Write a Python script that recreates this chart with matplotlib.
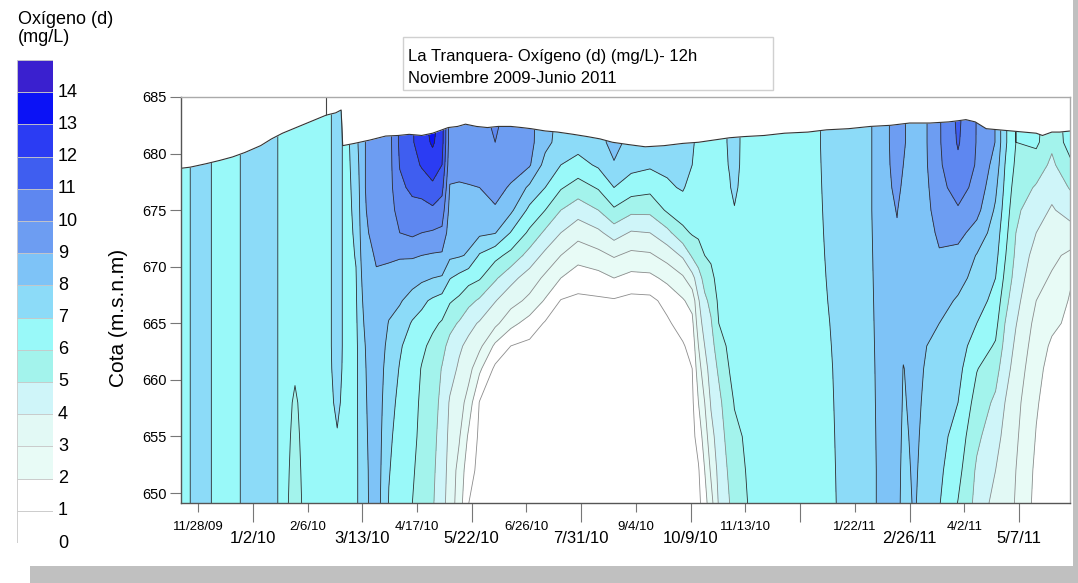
import numpy as np
import matplotlib
matplotlib.use("Agg")
import matplotlib.pyplot as plt
from matplotlib.patches import Rectangle

plt.rcParams['font.family'] = ['Liberation Sans', 'DejaVu Sans']

# ---------------- data ----------------
base_date = np.datetime64('2009-11-28')

# elevations (m.s.n.m) of the sampled profile points
elev = [649, 652, 655, 658, 661, 663, 665, 667, 669, 671, 673, 675, 677, 679, 681, 683, 685.5]

# sample dates as days after 2009-11-28
sample_days = [-11, 1, 16, 38, 47, 54, 62, 70, 82, 89, 95, 101, 106, 114, 122, 129,
               137, 143, 150, 156, 161, 167, 173, 180, 190, 200, 212, 222, 232, 243,
               256, 266, 277, 289, 300, 310, 316, 320, 324, 328, 333, 340, 343, 348,
               355, 370, 392, 404, 415, 428, 438, 447, 451, 458, 466, 474, 486, 498,
               510, 516, 523, 536, 546, 558]

# dissolved oxygen (mg/L) per sample date, from bottom (649 m) to top (685.5 m)
oxygen = [
    [6.6, 6.6, 6.6, 6.6, 6.6, 6.6, 6.6, 6.6, 6.6, 6.6, 6.6, 6.6, 6.6, 6.6, 6.6, 6.6, 6.6],
    [7.4, 7.4, 7.4, 7.4, 7.4, 7.4, 7.4, 7.4, 7.4, 7.4, 7.4, 7.4, 7.4, 7.4, 7.4, 7.4, 7.4],
    [6.6, 6.6, 6.6, 6.6, 6.6, 6.6, 6.6, 6.6, 6.6, 6.6, 6.6, 6.6, 6.6, 6.6, 6.6, 6.6, 6.6],
    [7.4, 7.4, 7.4, 7.4, 7.4, 7.4, 7.4, 7.4, 7.4, 7.4, 7.4, 7.4, 7.4, 7.4, 7.4, 7.4, 7.4],
    [7.4, 7.4, 7.4, 7.4, 7.4, 7.4, 7.4, 7.4, 7.4, 7.4, 7.4, 7.4, 7.4, 7.4, 7.4, 7.4, 7.4],
    [6.7, 6.7, 6.7, 6.7, 6.7, 6.7, 6.7, 6.7, 6.7, 6.7, 6.7, 6.7, 6.7, 6.7, 6.7, 6.7, 6.7],
    [5.2, 5.4, 5.6, 5.8, 6.2, 6.5, 6.65, 6.7, 6.7, 6.7, 6.7, 6.7, 6.7, 6.7, 6.7, 6.7, 6.7],
    [6.7, 6.7, 6.7, 6.7, 6.7, 6.7, 6.7, 6.7, 6.7, 6.7, 6.7, 6.7, 6.7, 6.7, 6.7, 6.7, 6.7],
    [6.7, 6.7, 6.7, 6.7, 6.7, 6.7, 6.7, 6.7, 6.7, 6.7, 6.7, 6.7, 6.7, 6.7, 6.7, 6.7, 6.7],
    [6.5, 6.7, 6.95, 7.15, 7.3, 7.35, 7.35, 7.35, 7.35, 7.35, 7.35, 7.35, 7.35, 7.35, 7.35, 7.35, 7.35],
    [6.7, 6.7, 6.7, 6.7, 6.7, 6.7, 6.7, 6.7, 6.7, 6.7, 6.7, 6.7, 6.7, 6.7, 6.7, 6.7, 6.7],
    [6.8, 6.8, 6.8, 6.8, 6.8, 6.8, 6.85, 6.9, 6.95, 7.05, 7.15, 7.25, 7.35, 7.5, 7.7, 7.8, 7.8],
    [7.7, 7.7, 7.75, 7.8, 7.85, 7.9, 8.0, 8.2, 8.4, 8.6, 8.75, 8.85, 8.9, 8.9, 8.9, 8.9, 8.9],
    [8.5, 8.55, 8.6, 8.65, 8.7, 8.75, 8.8, 8.85, 8.9, 9.1, 9.4, 9.6, 9.7, 9.7, 9.7, 9.7, 9.7],
    [6.95, 7.05, 7.15, 7.3, 7.5, 7.7, 7.95, 8.3, 8.7, 9.15, 9.45, 9.55, 9.6, 9.6, 9.6, 9.6, 9.6],
    [6.55, 6.6, 6.7, 6.8, 6.95, 7.1, 7.6, 8.1, 8.5, 9.1, 10.0, 10.4, 10.8, 11.05, 11.2, 11.2, 11.2],
    [6.0, 6.1, 6.2, 6.3, 6.45, 6.6, 6.9, 7.6, 8.4, 9.1, 10.2, 10.7, 11.2, 11.6, 11.9, 11.9, 11.9],
    [5.6, 5.7, 5.8, 5.85, 5.95, 6.2, 6.7, 7.2, 8.2, 9.0, 10.0, 10.6, 11.4, 12.1, 12.5, 12.7, 12.7],
    [5.1, 5.2, 5.3, 5.4, 5.55, 5.75, 6.2, 6.85, 8.0, 8.9, 9.9, 10.8, 11.8, 12.5, 13.15, 13.4, 13.4],
    [4.35, 4.45, 4.6, 4.75, 4.95, 5.3, 5.9, 6.6, 7.9, 8.85, 9.8, 10.5, 11.3, 12.0, 12.4, 12.5, 12.5],
    [3.55, 3.65, 3.75, 3.9, 4.4, 4.7, 5.3, 6.1, 7.05, 8.2, 8.45, 8.7, 8.95, 9.3, 9.5, 9.5, 9.5],
    [2.5, 2.65, 3.1, 3.5, 3.85, 4.15, 4.9, 5.8, 6.7, 8.1, 8.35, 8.6, 8.9, 9.3, 9.5, 9.5, 9.5],
    [1.0, 1.4, 1.85, 2.55, 3.4, 3.75, 4.3, 5.3, 6.35, 7.9, 8.3, 8.55, 8.95, 9.3, 9.5, 9.5, 9.5],
    [0.6, 0.7, 0.8, 0.95, 2.2, 3.25, 3.9, 4.85, 6.1, 6.9, 8.2, 8.5, 9.0, 9.4, 9.7, 9.7, 9.7],
    [0.4, 0.45, 0.5, 0.6, 0.8, 1.8, 3.25, 4.05, 5.15, 6.3, 8.05, 8.9, 9.3, 9.65, 10.0, 10.2, 10.2],
    [0.35, 0.4, 0.45, 0.55, 0.7, 1.0, 2.3, 3.4, 4.3, 5.7, 6.95, 8.2, 8.9, 9.4, 9.6, 9.6, 9.6],
    [0.35, 0.4, 0.45, 0.5, 0.6, 0.75, 1.6, 2.75, 3.55, 4.6, 5.8, 6.75, 7.8, 9.1, 9.3, 9.3, 9.3],
    [0.3, 0.35, 0.4, 0.45, 0.55, 0.7, 0.9, 1.9, 2.8, 3.75, 4.8, 6.0, 7.0, 7.65, 8.3, 8.4, 8.4],
    [0.3, 0.3, 0.35, 0.4, 0.5, 0.6, 0.75, 0.95, 2.0, 3.0, 4.0, 5.0, 6.1, 7.0, 7.6, 7.7, 7.7],
    [0.3, 0.3, 0.3, 0.35, 0.4, 0.5, 0.6, 0.8, 1.45, 2.4, 3.35, 4.45, 5.55, 6.65, 7.4, 7.5, 7.5],
    [0.3, 0.3, 0.3, 0.35, 0.4, 0.5, 0.6, 0.85, 1.65, 2.7, 3.8, 5.0, 6.1, 7.15, 7.6, 7.7, 7.7],
    [0.3, 0.3, 0.3, 0.35, 0.4, 0.5, 0.6, 0.9, 2.0, 3.1, 4.45, 5.85, 7.0, 7.9, 8.4, 8.4, 8.4],
    [0.3, 0.3, 0.3, 0.35, 0.4, 0.5, 0.6, 0.7, 1.7, 2.75, 3.9, 5.25, 6.5, 7.3, 7.6, 7.6, 7.6],
    [0.35, 0.35, 0.35, 0.4, 0.45, 0.55, 0.65, 0.75, 1.75, 2.85, 4.0, 5.25, 6.3, 7.15, 7.4, 7.5, 7.5],
    [0.4, 0.4, 0.45, 0.5, 0.6, 0.7, 0.85, 1.3, 2.25, 3.4, 4.7, 6.15, 6.85, 7.2, 7.4, 7.4, 7.4],
    [0.5, 0.55, 0.6, 0.65, 0.75, 0.9, 1.4, 1.9, 2.85, 4.15, 5.75, 6.5, 7.1, 7.2, 7.3, 7.3, 7.3],
    [0.6, 0.65, 0.7, 0.8, 1.0, 1.35, 1.75, 2.35, 3.65, 5.15, 6.1, 6.3, 6.6, 7.0, 7.05, 7.05, 7.05],
    [0.7, 0.9, 1.4, 2.0, 2.6, 3.0, 3.55, 3.9, 4.6, 5.5, 6.2, 6.45, 6.65, 6.8, 6.9, 6.9, 6.9],
    [1.6, 2.0, 2.5, 3.0, 3.6, 4.0, 4.4, 4.8, 5.35, 6.0, 6.35, 6.55, 6.7, 6.8, 6.85, 6.85, 6.85],
    [2.6, 3.15, 3.65, 4.1, 4.45, 4.65, 4.9, 5.25, 5.75, 6.15, 6.4, 6.55, 6.7, 6.75, 6.8, 6.8, 6.8],
    [4.1, 4.3, 4.5, 4.75, 5.15, 5.5, 6.0, 6.2, 6.35, 6.45, 6.55, 6.6, 6.65, 6.7, 6.7, 6.7, 6.7],
    [5.0, 5.2, 5.45, 5.7, 6.05, 6.25, 6.4, 6.5, 6.55, 6.6, 6.65, 6.75, 6.95, 7.05, 7.1, 7.1, 7.1],
    [5.3, 5.55, 5.8, 6.05, 6.3, 6.45, 6.55, 6.6, 6.65, 6.7, 6.8, 6.95, 7.2, 7.4, 7.5, 7.5, 7.5],
    [5.7, 5.85, 6.0, 6.15, 6.3, 6.4, 6.5, 6.55, 6.6, 6.6, 6.65, 6.7, 6.75, 6.8, 6.8, 6.8, 6.8],
    [6.3, 6.35, 6.4, 6.45, 6.5, 6.55, 6.6, 6.6, 6.6, 6.6, 6.6, 6.6, 6.6, 6.6, 6.6, 6.6, 6.6],
    [6.6, 6.6, 6.6, 6.6, 6.6, 6.6, 6.6, 6.6, 6.6, 6.6, 6.6, 6.6, 6.6, 6.6, 6.6, 6.6, 6.6],
    [6.6, 6.6, 6.6, 6.6, 6.6, 6.6, 6.6, 6.6, 6.6, 6.6, 6.6, 6.6, 6.6, 6.6, 6.6, 6.6, 6.6],
    [6.7, 6.75, 6.8, 6.85, 6.9, 6.95, 7.0, 7.05, 7.1, 7.15, 7.2, 7.25, 7.3, 7.35, 7.4, 7.4, 7.4],
    [7.5, 7.5, 7.5, 7.5, 7.5, 7.5, 7.5, 7.5, 7.5, 7.5, 7.5, 7.5, 7.5, 7.5, 7.5, 7.5, 7.5],
    [7.6, 7.6, 7.62, 7.64, 7.66, 7.68, 7.7, 7.72, 7.74, 7.76, 7.78, 7.8, 7.8, 7.8, 7.8, 7.8, 7.8],
    [8.3, 8.3, 8.32, 8.34, 8.36, 8.38, 8.4, 8.42, 8.44, 8.46, 8.48, 8.5, 8.5, 8.5, 8.5, 8.5, 8.5],
    [8.4, 8.4, 8.45, 8.5, 8.55, 8.6, 8.65, 8.7, 8.75, 8.8, 8.9, 9.05, 9.3, 9.5, 9.6, 9.6, 9.6],
    [7.6, 7.7, 7.8, 7.9, 7.97, 8.15, 8.3, 8.35, 8.4, 8.45, 8.5, 8.6, 8.8, 9.0, 9.1, 9.1, 9.1],
    [8.1, 8.15, 8.2, 8.25, 8.3, 8.35, 8.4, 8.42, 8.44, 8.46, 8.5, 8.52, 8.55, 8.58, 8.6, 8.6, 8.6],
    [7.5, 7.6, 7.7, 7.8, 7.9, 8.0, 8.1, 8.2, 8.3, 8.45, 8.6, 8.75, 8.85, 8.95, 8.98, 8.98, 8.98],
    [7.05, 7.2, 7.35, 7.5, 7.7, 7.85, 8.0, 8.3, 8.6, 8.9, 9.2, 9.5, 9.7, 9.85, 9.9, 9.9, 9.9],
    [5.95, 6.3, 6.6, 7.0, 7.3, 7.5, 7.7, 7.9, 8.3, 8.7, 9.3, 9.9, 10.4, 10.8, 11.1, 11.2, 11.2],
    [4.7, 4.85, 5.2, 5.6, 6.05, 6.5, 7.0, 7.4, 7.7, 7.95, 8.6, 9.3, 9.7, 9.9, 9.95, 9.95, 9.95],
    [3.6, 4.0, 4.4, 4.8, 5.4, 5.9, 6.3, 6.7, 7.0, 7.3, 7.55, 7.85, 8.2, 8.6, 8.97, 8.97, 8.97],
    [3.3, 3.5, 3.7, 4.0, 4.4, 4.7, 5.0, 5.35, 5.8, 6.1, 6.35, 6.6, 6.8, 7.0, 7.2, 7.2, 7.2],
    [2.95, 3.0, 3.15, 3.3, 3.6, 3.8, 4.05, 4.3, 4.55, 4.8, 5.0, 5.2, 5.5, 5.8, 6.0, 6.0, 6.0],
    [1.7, 1.8, 1.95, 2.1, 2.3, 2.5, 2.7, 3.0, 3.3, 3.6, 4.0, 4.4, 4.9, 5.5, 6.2, 6.3, 6.3],
    [1.2, 1.3, 1.4, 1.5, 1.65, 1.85, 2.2, 2.6, 2.9, 3.2, 3.5, 3.9, 4.3, 4.8, 5.2, 5.3, 5.3],
    [1.2, 1.3, 1.4, 1.5, 1.6, 1.7, 1.8, 1.9, 2.1, 2.8, 3.6, 4.4, 5.1, 5.8, 6.5, 6.6, 6.6],
]

# water surface elevation (days after 2009-11-28, m)
surface_days = [-11, -5, 5, 14, 22, 30, 40, 47, 54, 61, 68, 75, 82, 88, 91.5, 92.5,
                100, 110, 120, 128, 135, 143, 150, 156, 160, 166, 171, 178, 185, 192,
                200, 207, 213, 222, 230, 240, 249, 257, 265, 275, 286, 298, 310, 320,
                330, 340, 349, 362, 375, 390, 402, 416, 430, 443, 455, 468, 480, 486,
                491, 497, 504, 512, 520, 528, 536, 540, 546, 551, 558]
surface_elev = [678.7, 678.8, 679.1, 679.4, 679.7, 680.1, 680.7, 681.3, 681.8, 682.2,
                682.6, 683.0, 683.4, 683.6, 683.85, 680.7, 680.9, 681.2, 681.55, 681.6,
                681.7, 681.6, 681.8, 682.1, 682.3, 682.4, 682.6, 682.4, 682.3, 682.4,
                682.4, 682.3, 682.2, 682.0, 681.9, 681.7, 681.5, 681.3, 681.0, 680.8,
                680.6, 680.7, 680.9, 681.0, 681.2, 681.4, 681.5, 681.6, 681.8, 681.9,
                682.1, 682.2, 682.4, 682.5, 682.7, 682.7, 682.8, 682.9, 683.0, 682.8,
                682.2, 682.1, 682.0, 681.9, 681.8, 681.6, 681.9, 681.9, 682.0]

tick_dates = ['2009-11-28', '2010-01-02', '2010-02-06', '2010-03-13', '2010-04-17',
              '2010-05-22', '2010-06-26', '2010-07-31', '2010-09-04', '2010-10-09',
              '2010-11-13', '2010-12-18', '2011-01-22', '2011-02-26', '2011-04-02',
              '2011-05-07']
tick_labels = ['11/28/09', '1/2/10', '2/6/10', '3/13/10', '4/17/10', '5/22/10', '6/26/10',
               '7/31/10', '9/4/10', '10/9/10', '11/13/10', '', '1/22/11', '2/26/11',
               '4/2/11', '5/7/11']

levels = list(range(0, 16))
level_colors = ['#ffffff', '#ffffff', '#e8fbf6', '#e2f9f5', '#cff5f9', '#a3f3ec',
                '#99f9f9', '#8cdbf8', '#7ec3f7', '#6d9df2', '#5e87f0', '#3f5ef0',
                '#2b3cf3', '#0b12f6', '#3a20cf']
colorbar_labels = [str(v) for v in levels[:-1]]

# ---------------- figure ----------------
W, H = 1078, 583
fig = plt.figure(figsize=(W / 100, H / 100), dpi=100)

# drop-shadow bands
fig.add_artist(Rectangle((30 / W, 0), 1, 17 / H, transform=fig.transFigure,
                         facecolor='#c0c0c0', edgecolor='none'))
fig.add_artist(Rectangle((1073 / W, 0), 5 / W, 1, transform=fig.transFigure,
                         facecolor='#c0c0c0', edgecolor='none'))

ax = fig.add_axes([181 / W, 1 - 503 / H, 889 / W, 406 / H])
X = np.array(sample_days, dtype=float)
Y = np.array(elev, dtype=float)
Z = np.array(oxygen, dtype=float).T

ax.contourf(X, Y, Z, levels=levels, colors=level_colors, zorder=1)
line_cols = ['#8c8c8c' if lv <= 5 else '#2e2e2e' for lv in levels[1:-1]]
ax.contour(X, Y, Z, levels=levels[1:-1], colors=line_cols, linewidths=0.6, zorder=2)

sd = np.array(surface_days, dtype=float)
se = np.array(surface_elev, dtype=float)
ax.fill_between(sd, se, 686, color='white', lw=0, zorder=3)
ax.plot(sd, se, color='#333333', lw=0.8, zorder=4)
ax.vlines(82, np.interp(82, sd, se), 685, color='#444444', lw=0.8, zorder=4)

ax.set_xlim(-10.9, 557.6)
ax.set_ylim(649.12, 685)

for s in ['left', 'bottom']:
    ax.spines[s].set_color('#555555')
for s in ['top', 'right']:
    ax.spines[s].set_color('#aaaaaa')
for s in ax.spines.values():
    s.set_linewidth(1.0)
    s.set_zorder(6)

ax.set_yticks([650, 655, 660, 665, 670, 675, 680, 685])
ax.tick_params(axis='y', length=8, width=0.8, color='#777777', labelsize=10.5, pad=2)

tick_pos = (np.array(tick_dates, dtype='datetime64[D]') - base_date).astype(float)
major_pos = tick_pos[1::2]
minor_pos = tick_pos[0::2]
ax.set_xticks(major_pos)
ax.set_xticklabels(tick_labels[1::2], fontsize=12)
ax.set_xticks(minor_pos, minor=True)
ax.set_xticklabels(tick_labels[0::2], minor=True, fontsize=9.5)
ax.tick_params(axis='x', which='major', length=14, width=0.8, color='#777777', pad=6)
ax.tick_params(axis='x', which='minor', length=6.5, width=0.8, color='#777777', pad=6.5)

fig.text(118 / W, 1 - 318 / H, 'Cota (m.s.n.m)', rotation=90, ha='center', va='center',
         fontsize=15)

# title box
fig.add_artist(Rectangle((403 / W, 1 - 90 / H), 370 / W, 53 / H, transform=fig.transFigure,
                         fill=False, edgecolor='#d0d0d0', lw=1))
fig.text(408 / W, 1 - 61 / H, 'La Tranquera- Oxígeno (d) (mg/L)- 12h', fontsize=12,
         ha='left', va='baseline')
fig.text(408 / W, 1 - 83 / H, 'Noviembre 2009-Junio 2011', fontsize=12,
         ha='left', va='baseline')

# colour scale
cax = fig.add_axes([17 / W, 1 - 543 / H, 36 / W, 483 / H])
cax.set_xlim(0, 1)
cax.set_ylim(0, 15)
cax.axis('off')
for i, c in enumerate(level_colors):
    cax.add_patch(Rectangle((0, levels[i]), 1, 1, facecolor=c, edgecolor='#c8c8c8', lw=0.6))
for i, lab in enumerate(colorbar_labels):
    y_px = 543 - levels[i] * 483 / 15
    fig.text(58 / W, 1 - y_px / H, lab, fontsize=13, ha='left', va='center')
fig.text(18 / W, 1 - 11 / H, 'Oxígeno (d)\n(mg/L)', fontsize=13, ha='left', va='top',
         linespacing=1.1)

fig.savefig('out.png', dpi=100)
